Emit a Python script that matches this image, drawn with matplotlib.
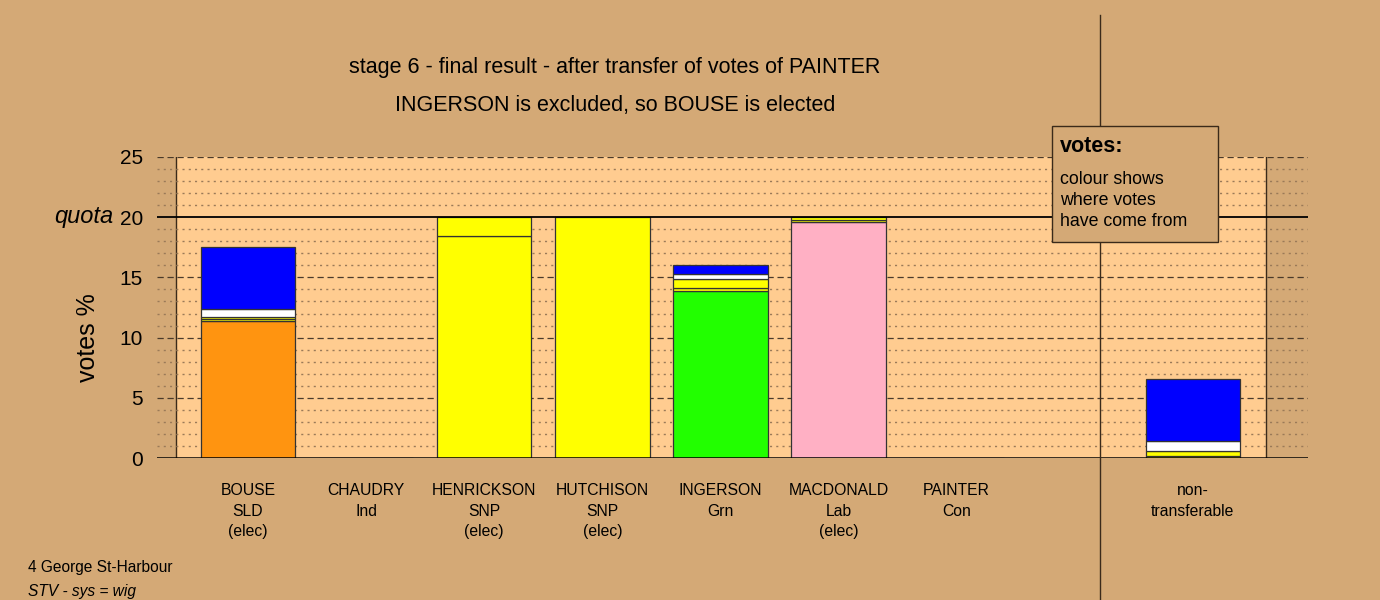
import matplotlib
matplotlib.use("Agg")
import matplotlib.pyplot as plt
import numpy as np
from matplotlib.lines import Line2D
from matplotlib.patches import Rectangle

plt.rcParams['font.family'] = ['Liberation Sans', 'DejaVu Sans']

# --- data (votes %) ---
candidates = ['BOUSE\nSLD\n(elec)', 'CHAUDRY\nInd', 'HENRICKSON\nSNP\n(elec)',
              'HUTCHISON\nSNP\n(elec)', 'INGERSON\nGrn', 'MACDONALD\nLab\n(elec)',
              'PAINTER\nCon', 'non-\ntransferable']
own_colours = ['#ff9410', '#ffffff', '#ffff00', '#ffff00', '#22ff00', '#ffb0c4',
               '#0000ff', '#ffffff']
own_votes = [11.4, 0.0, 18.4, 20.0, 13.9, 19.63, 0.0, 0.0]
# transferred votes, stacked in this order
transfers = [
    ('#ffff00', [0.15, 0, 1.6, 0, 0.2, 0.17, 0, 0.2]),    # SNP surplus 1
    ('#ffff00', [0.15, 0, 0, 0, 0.75, 0.2, 0, 0.41]),     # SNP surplus 2
    ('#ffffff', [0.65, 0, 0, 0, 0.44, 0, 0, 0.83]),       # from CHAUDRY
    ('#0000ff', [5.2, 0, 0, 0, 0.75, 0, 0, 5.09]),        # from PAINTER
]
quota = 20
title1 = 'stage 6 - final result - after transfer of votes of PAINTER'
title2 = 'INGERSON is excluded, so BOUSE is elected'

bg = '#d4a976'
panel = '#ffcc90'

fig = plt.figure(figsize=(13.8, 6), dpi=100, facecolor=bg)
ax = fig.add_axes([157/1380, 1 - 458/600, (1308 - 157)/1380, (458 - 157)/600])
ax.set_facecolor(bg)

# positions: 7 candidates, a gap, then non-transferable
x = np.append(np.arange(len(candidates) - 1), len(candidates))
ax.set_xlim(-0.77, 8.975)
ax.set_ylim(0, 25)

# light panel
ax.axvspan(-0.612, 8.617, color=panel, zorder=0, lw=0)
for xe in (-0.612, 8.617):
    ax.plot([xe, xe], [0, 25], color='#3a2a1a', lw=1, zorder=1)

# gridlines
for v in range(1, 25):
    if v % 5 == 0:
        continue
    ax.axhline(v, color='#9a7a58', lw=1, ls=(0, (1.5, 3)), zorder=1)
for v in (5, 10, 15, 25):
    ax.axhline(v, color='#4a3a2a', lw=0.9, ls=(0, (5, 3)), zorder=1)
ax.axhline(quota, color='black', lw=1.3, zorder=4)
ax.axhline(0, color='black', lw=1.8, zorder=4)

# bars
bottom = np.array(own_votes, dtype=float)
ax.bar(x, own_votes, width=0.8, color=own_colours, edgecolor='#333333', lw=0.9, zorder=2)
for col, vals in transfers:
    vals = np.array(vals, dtype=float)
    m = vals > 0
    ax.bar(x[m], vals[m], bottom=bottom[m], width=0.8, color=col,
           edgecolor='#333333', lw=0.9, zorder=2)
    bottom += vals

ax.set_xticks(x, candidates, fontsize=11.3, linespacing=1.47)
ax.set_yticks([0, 5, 10, 15, 20, 25])
ax.set_yticklabels(['0', '5', '10', '15', '20', '25'], fontsize=15)
ax.tick_params(length=0)
ax.tick_params(axis='x', pad=18)
ax.tick_params(axis='y', pad=10)
for s in ax.spines.values():
    s.set_visible(False)

fig.text(113/1380, 1 - 217/600, 'quota', fontsize=17, style='italic', ha='right', va='center')
fig.text(88/1380, 1 - 338/600, 'votes %', fontsize=18, rotation=90, ha='center', va='center')

fig.text(615/1380, 1 - 67/600, title1, fontsize=15.5, ha='center', va='center')
fig.text(615/1380, 1 - 106/600, title2, fontsize=15.5, ha='center', va='center')

fig.text(28/1380, 1 - 572/600, '4 George St-Harbour', fontsize=11.2, ha='left', va='baseline')
fig.text(28/1380, 1 - 596/600, 'STV - sys = wig', fontsize=11.2, style='italic', ha='left', va='baseline')

# separator line before non-transferable
fig.add_artist(Line2D([1100/1380, 1100/1380], [0, 1 - 15/600], color='#3a2a1a', lw=1, zorder=3))

# legend box
fig.add_artist(Rectangle((1052/1380, 1 - 242/600), 166/1380, 116/600, transform=fig.transFigure,
                         facecolor=bg, edgecolor='#3a2a1a', lw=1, zorder=5))
fig.text(1060/1380, 1 - 152/600, 'votes:', fontsize=15.5, weight='bold', ha='left', va='baseline', zorder=6)
for i, line in enumerate(['colour shows', 'where votes', 'have come from']):
    fig.text(1060/1380, 1 - (184 + 21*i)/600, line, fontsize=12.8, ha='left', va='baseline', zorder=6)

fig.savefig('out.png', dpi=100, facecolor=bg)
